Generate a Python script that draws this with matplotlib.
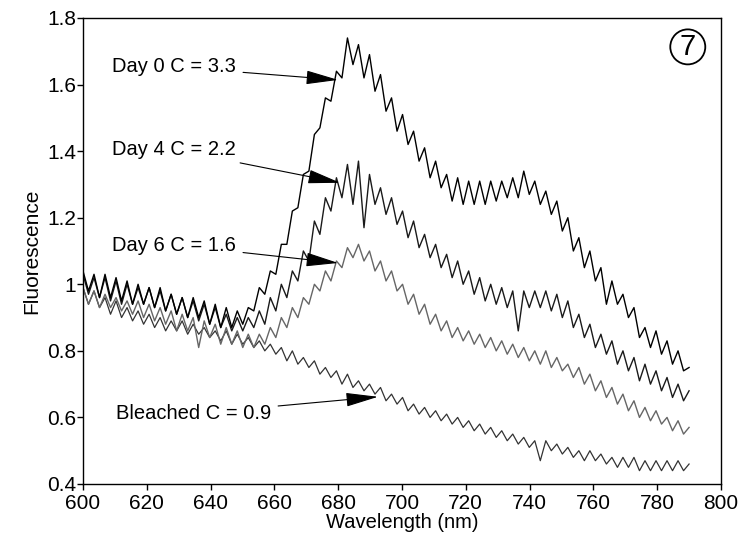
import matplotlib.pyplot as plt
import numpy as np

plt.rcParams['font.family'] = ['Liberation Sans', 'DejaVu Sans']

# wavelength grid (nm), 111 samples from 600 to 790
wavelength = np.linspace(600, 790, 111)

day0 = [1.04, 0.98, 1.03, 0.96, 1.03, 0.96, 1.02, 0.95, 1.01, 0.94,
        1.00, 0.94, 0.99, 0.93, 0.99, 0.92, 0.97, 0.91, 0.96, 0.90,
        0.96, 0.90, 0.95, 0.88, 0.94, 0.87, 0.93, 0.87, 0.92, 0.88,
        0.93, 0.92, 0.99, 0.97, 1.04, 1.03, 1.12, 1.12, 1.22, 1.23,
        1.33, 1.34, 1.45, 1.47, 1.56, 1.55, 1.64, 1.62, 1.74, 1.66,
        1.72, 1.62, 1.69, 1.58, 1.63, 1.52, 1.56, 1.46, 1.51, 1.42,
        1.46, 1.37, 1.41, 1.32, 1.37, 1.29, 1.33, 1.25, 1.32, 1.24,
        1.31, 1.24, 1.31, 1.24, 1.31, 1.25, 1.31, 1.26, 1.32, 1.26,
        1.34, 1.27, 1.31, 1.24, 1.28, 1.21, 1.25, 1.16, 1.20, 1.10,
        1.14, 1.05, 1.10, 1.01, 1.05, 0.94, 1.01, 0.94, 0.97, 0.90,
        0.93, 0.84, 0.87, 0.81, 0.86, 0.79, 0.83, 0.76, 0.80, 0.74,
        0.75]

day4 = [1.03, 0.97, 1.02, 0.96, 1.02, 0.95, 1.01, 0.94, 1.00, 0.94,
        0.99, 0.94, 0.99, 0.93, 0.98, 0.92, 0.97, 0.91, 0.96, 0.90,
        0.95, 0.89, 0.94, 0.88, 0.93, 0.87, 0.91, 0.86, 0.90, 0.86,
        0.90, 0.87, 0.92, 0.88, 0.96, 0.92, 1.00, 0.96, 1.04, 1.01,
        1.10, 1.07, 1.19, 1.15, 1.26, 1.22, 1.32, 1.26, 1.36, 1.24,
        1.37, 1.17, 1.33, 1.24, 1.29, 1.21, 1.26, 1.18, 1.22, 1.14,
        1.19, 1.11, 1.15, 1.08, 1.12, 1.05, 1.09, 1.02, 1.07, 1.00,
        1.04, 0.97, 1.02, 0.95, 1.00, 0.94, 0.99, 0.93, 0.98, 0.86,
        0.98, 0.93, 0.98, 0.93, 0.98, 0.92, 0.97, 0.90, 0.95, 0.87,
        0.91, 0.84, 0.88, 0.81, 0.85, 0.79, 0.83, 0.76, 0.80, 0.74,
        0.78, 0.71, 0.76, 0.70, 0.74, 0.68, 0.72, 0.66, 0.70, 0.65,
        0.68]

day6 = [0.99, 0.94, 0.98, 0.93, 0.97, 0.93, 0.96, 0.92, 0.95, 0.91,
        0.95, 0.90, 0.94, 0.89, 0.93, 0.88, 0.92, 0.86, 0.91, 0.86,
        0.90, 0.81, 0.89, 0.84, 0.88, 0.82, 0.87, 0.82, 0.86, 0.81,
        0.85, 0.81, 0.85, 0.82, 0.87, 0.84, 0.90, 0.87, 0.93, 0.90,
        0.96, 0.94, 1.00, 0.98, 1.04, 1.01, 1.07, 1.05, 1.11, 1.08,
        1.12, 1.07, 1.10, 1.04, 1.07, 1.01, 1.04, 0.98, 1.00, 0.94,
        0.97, 0.91, 0.94, 0.88, 0.91, 0.86, 0.89, 0.84, 0.87, 0.83,
        0.86, 0.82, 0.85, 0.81, 0.84, 0.80, 0.83, 0.79, 0.82, 0.78,
        0.81, 0.77, 0.80, 0.76, 0.80, 0.75, 0.78, 0.74, 0.76, 0.72,
        0.75, 0.70, 0.73, 0.68, 0.71, 0.66, 0.69, 0.64, 0.67, 0.62,
        0.65, 0.60, 0.63, 0.59, 0.62, 0.58, 0.60, 0.56, 0.59, 0.55,
        0.57]

bleached = [0.99, 0.94, 0.98, 0.93, 0.96, 0.91, 0.95, 0.90, 0.93, 0.89,
            0.92, 0.88, 0.91, 0.87, 0.90, 0.86, 0.89, 0.86, 0.89, 0.85,
            0.88, 0.85, 0.87, 0.84, 0.86, 0.83, 0.86, 0.82, 0.85, 0.82,
            0.84, 0.81, 0.83, 0.80, 0.82, 0.79, 0.81, 0.77, 0.80, 0.76,
            0.78, 0.75, 0.77, 0.73, 0.75, 0.72, 0.74, 0.70, 0.73, 0.69,
            0.71, 0.68, 0.70, 0.67, 0.69, 0.65, 0.67, 0.64, 0.66, 0.62,
            0.64, 0.61, 0.63, 0.60, 0.62, 0.59, 0.61, 0.58, 0.60, 0.57,
            0.59, 0.56, 0.58, 0.55, 0.57, 0.54, 0.56, 0.53, 0.55, 0.52,
            0.54, 0.51, 0.53, 0.47, 0.53, 0.50, 0.52, 0.49, 0.51, 0.48,
            0.50, 0.47, 0.50, 0.47, 0.49, 0.46, 0.48, 0.45, 0.48, 0.45,
            0.48, 0.44, 0.47, 0.44, 0.47, 0.44, 0.47, 0.44, 0.47, 0.44,
            0.46]

labels = ['Day 0 C = 3.3', 'Day 4 C = 2.2', 'Day 6 C = 1.6', 'Bleached C = 0.9']
# (text x, text y, arrow tip x, arrow tip y) in data units
label_pos = [(648, 1.653, 680, 1.614),
             (648, 1.404, 680.6, 1.305),
             (648, 1.118, 680, 1.064),
             (659, 0.611, 692.5, 0.662)]

fig = plt.figure(figsize=(7.51, 5.37), dpi=100)
ax = fig.add_axes([0.1105, 0.0987, 0.8495, 0.8678])

ax.plot(wavelength, bleached, color='#333333', lw=0.9)
ax.plot(wavelength, day6, color='#666666', lw=1.0)
ax.plot(wavelength, day4, color='#1a1a1a', lw=1.0)
ax.plot(wavelength, day0, color='black', lw=1.0)

for lab, (tx, ty, ax_, ay) in zip(labels, label_pos):
    ax.annotate(lab, xy=(ax_, ay), xytext=(tx, ty), ha='right', va='center',
                fontsize=14.5,
                arrowprops=dict(arrowstyle='-|>,head_length=1.4,head_width=0.3',
                                color='black', lw=0.8, shrinkA=3, shrinkB=0))

ax.text(0.948, 0.938, '7', transform=ax.transAxes, ha='center', va='center',
        fontsize=21, bbox=dict(boxstyle='circle,pad=0.12', fc='white', ec='black', lw=1.3))

ax.set_xlim(600, 800)
ax.set_ylim(0.4, 1.8)
ax.set_xticks(np.arange(600, 801, 20))
ax.set_yticks([0.4, 0.6, 0.8, 1.0, 1.2, 1.4, 1.6, 1.8])
ax.set_yticklabels(['0.4', '0.6', '0.8', '1', '1.2', '1.4', '1.6', '1.8'])
ax.tick_params(labelsize=15, direction='out', length=4, width=1)
ax.tick_params(axis='y', pad=1)
ax.tick_params(axis='x', pad=3)
ax.set_xlabel('Wavelength (nm)', fontsize=14.5, labelpad=0)
ax.set_ylabel('Fluorescence', fontsize=15, labelpad=4)
for s in ax.spines.values():
    s.set_linewidth(1)

fig.savefig('out.png', dpi=100)
